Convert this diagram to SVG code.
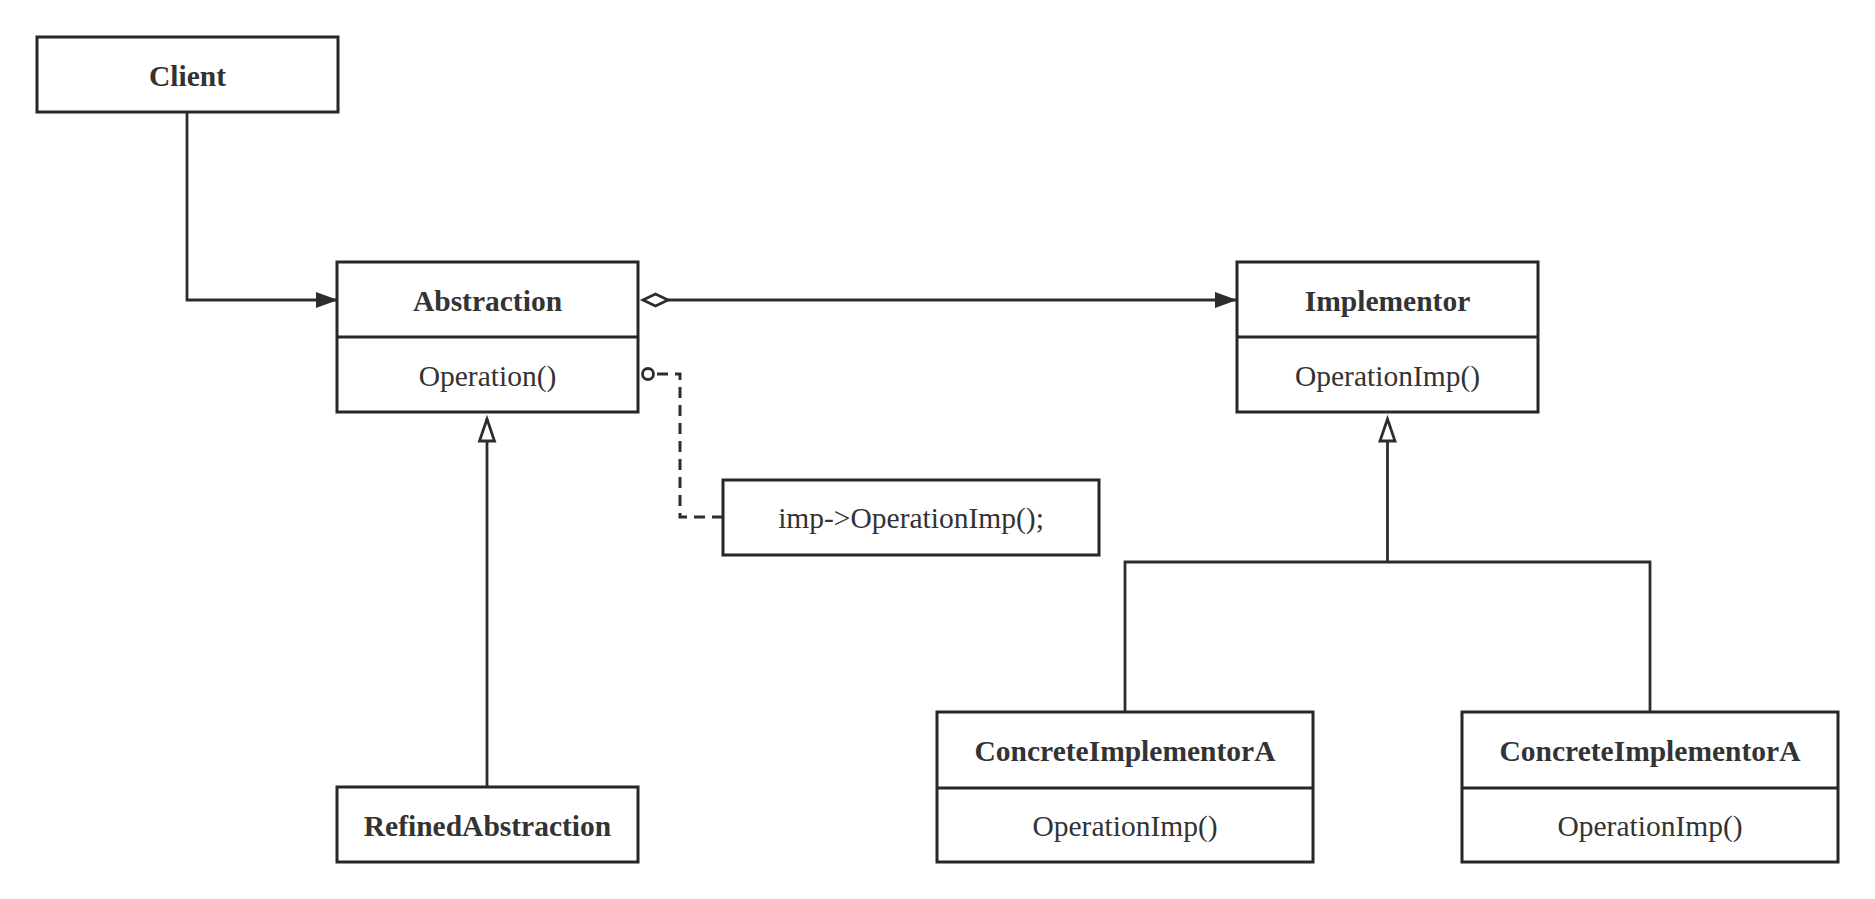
<svg xmlns="http://www.w3.org/2000/svg" width="1875" height="899" viewBox="0 0 1875 899">
<style>
.box{fill:#fff;stroke:#23282c;stroke-width:3}
.div{stroke:#23282c;stroke-width:3}
.ln{fill:none;stroke:#2b2e31;stroke-width:2.8}
.dash{fill:none;stroke:#2b2e31;stroke-width:3;stroke-dasharray:11 7}
.t{font-family:"Liberation Serif","Times New Roman",serif;font-size:29.5px;fill:#333;text-anchor:middle}
.b{font-weight:bold}
</style>
<defs>
<marker id="arrow" markerUnits="userSpaceOnUse" markerWidth="24" markerHeight="18" refX="22" refY="8" orient="auto" overflow="visible">
<path d="M0,0 L22,8 L0,16 z" fill="#2b2e31"/>
</marker>
<marker id="tri" markerUnits="userSpaceOnUse" markerWidth="26" markerHeight="18" refX="22" refY="7.5" orient="auto" overflow="visible">
<path d="M0,0 L22,7.5 L0,15 z" fill="#fff" stroke="#2b2e31" stroke-width="2.8" stroke-linejoin="miter"/>
</marker>
<marker id="diamond" markerUnits="userSpaceOnUse" markerWidth="28" markerHeight="16" refX="0" refY="6.5" orient="auto" overflow="visible">
<path d="M0,6.5 L12.5,0.5 L25,6.5 L12.5,12.5 z" fill="#fff" stroke="#2b2e31" stroke-width="2.8"/>
</marker>
</defs>
<rect width="1875" height="899" fill="#fff"/>
<g id="connectors">
<path class="ln" d="M187,112 V300 H338" marker-end="url(#arrow)"/>
<path class="ln" d="M643,300 H1237" marker-start="url(#diamond)" marker-end="url(#arrow)"/>
<path class="ln" d="M487,787 V419" marker-end="url(#tri)"/>
<path class="ln" d="M1125,712 V562 H1650 V712"/>
<path class="ln" d="M1387.5,562 V419" marker-end="url(#tri)"/>
<circle cx="648" cy="374" r="5.5" fill="#fff" stroke="#2b2e31" stroke-width="2.8"/>
<path class="dash" d="M657,374 H680 V517 H723"/>
</g>
<g id="client">
<rect class="box" x="37" y="37" width="301" height="75"/>
<text class="t b" x="187.5" y="86">Client</text>
</g>
<g id="abstraction">
<rect class="box" x="337" y="262" width="301" height="150"/>
<line class="div" x1="337" y1="337" x2="638" y2="337"/>
<text class="t b" x="487.5" y="311">Abstraction</text>
<text class="t" x="487.5" y="386">Operation()</text>
</g>
<g id="note">
<rect class="box" x="723" y="480" width="376" height="75"/>
<text class="t" x="911" y="528">imp-&gt;OperationImp();</text>
</g>
<g id="implementor">
<rect class="box" x="1237" y="262" width="301" height="150"/>
<line class="div" x1="1237" y1="337" x2="1538" y2="337"/>
<text class="t b" x="1387.5" y="311">Implementor</text>
<text class="t" x="1387.5" y="386">OperationImp()</text>
</g>
<g id="refinedAbstraction">
<rect class="box" x="337" y="787" width="301" height="75"/>
<text class="t b" x="487.5" y="836">RefinedAbstraction</text>
</g>
<g id="concreteA1">
<rect class="box" x="937" y="712" width="376" height="150"/>
<line class="div" x1="937" y1="788" x2="1313" y2="788"/>
<text class="t b" x="1125" y="761">ConcreteImplementorA</text>
<text class="t" x="1125" y="836">OperationImp()</text>
</g>
<g id="concreteA2">
<rect class="box" x="1462" y="712" width="376" height="150"/>
<line class="div" x1="1462" y1="788" x2="1838" y2="788"/>
<text class="t b" x="1650" y="761">ConcreteImplementorA</text>
<text class="t" x="1650" y="836">OperationImp()</text>
</g>
</svg>
